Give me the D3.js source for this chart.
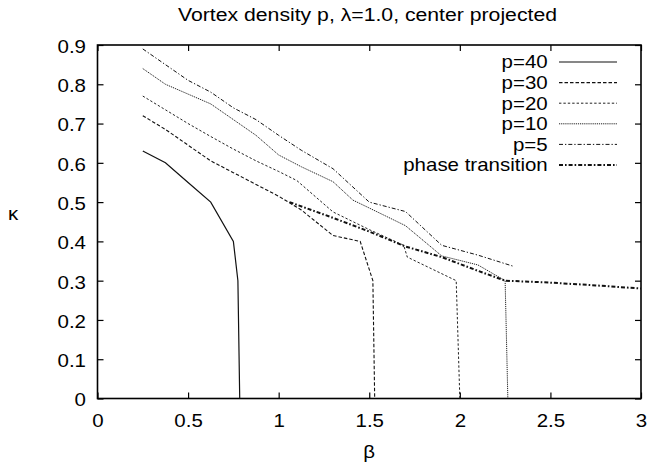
<!DOCTYPE html>
<html>
<head>
<meta charset="utf-8">
<script src="https://cdn.jsdelivr.net/npm/d3@7"></script>
<style>
  html, body { margin: 0; padding: 0; background: #fff; }
  text { font-family: "Liberation Sans", Arial, Helvetica, sans-serif; fill: #000; }
</style>
</head>
<body>
<svg id="chart" width="649" height="468"></svg>
<script>
// Curves kappa(beta) for several vortex densities p, plus the phase-transition line
const p40 = [[0.25,0.63],[0.375,0.60],[0.5,0.55],[0.625,0.50],[0.75,0.40],[0.775,0.30],[0.785,0]];
const p30 = [[0.25,0.72],[0.375,0.685],[0.5,0.645],[0.625,0.605],[0.75,0.575],[0.875,0.545],[1.0,0.515],[1.125,0.48],[1.3,0.415],[1.45,0.40],[1.52,0.30],[1.53,0]];
const p20 = [[0.25,0.77],[0.375,0.735],[0.5,0.70],[0.625,0.667],[0.75,0.635],[0.875,0.605],[1.0,0.578],[1.1,0.555],[1.3,0.475],[1.5,0.43],[1.69,0.39],[1.71,0.36],[1.98,0.30],[2.0,0]];
const p10 = [[0.25,0.84],[0.375,0.80],[0.5,0.775],[0.625,0.75],[0.75,0.71],[0.875,0.67],[1.0,0.62],[1.125,0.59],[1.3,0.552],[1.41,0.505],[1.5,0.485],[1.7,0.44],[1.9,0.363],[2.1,0.34],[2.25,0.30],[2.265,0]];
const p5  = [[0.25,0.89],[0.375,0.85],[0.5,0.81],[0.625,0.78],[0.75,0.74],[0.875,0.71],[1.0,0.67],[1.125,0.632],[1.3,0.585],[1.5,0.50],[1.7,0.476],[1.9,0.39],[2.1,0.365],[2.3,0.336]];
const phase = [[1.06,0.50],[1.3,0.46],[1.5,0.425],[1.7,0.387],[1.9,0.36],[2.1,0.325],[2.25,0.30],[2.5,0.295],[2.75,0.288],[3.0,0.28]];

const seriesNames = ["p=40", "p=30", "p=20", "p=10", "p=5", "phase transition"];
const seriesData = [p40, p30, p20, p10, p5, phase];
const xTicks = [0, 0.5, 1, 1.5, 2, 2.5, 3];
const yTicks = [0, 0.1, 0.2, 0.3, 0.4, 0.5, 0.6, 0.7, 0.8, 0.9];

// Line styles (gnuplot-like dash patterns)
const styles = [
  { dash: null,          width: 1.2, color: "#111" },
  { dash: "3.5,2",       width: 1.1, color: "#111" },
  { dash: "2.4,2",       width: 1.0, color: "#222" },
  { dash: "1.2,0.9",     width: 1.0, color: "#222" },
  { dash: "4,2,1.3,2",   width: 1.0, color: "#111" },
  { dash: "4,2,1.6,2",   width: 2.0, color: "#111" }
];

const margin = { left: 97.5, right: 8, top: 45, bottom: 69.5 };
const W = 649, H = 468;
const svg = d3.select("#chart");

const x = d3.scaleLinear().domain([0, 3]).range([margin.left, W - margin.right]);
const y = d3.scaleLinear().domain([0, 0.9]).range([H - margin.bottom, margin.top]);

const SX = 1.17; // horizontal glyph stretch for labels
const FS = 17.5;

// Axes with inward ticks on all four sides
const gB = svg.append("g").attr("transform", `translate(0,${y(0)})`)
  .call(d3.axisBottom(x).tickValues(xTicks).tickFormat(d3.format("")).tickSize(-6).tickPadding(16));
const gT = svg.append("g").attr("transform", `translate(0,${y(0.9)})`)
  .call(d3.axisTop(x).tickValues(xTicks).tickFormat("").tickSize(-6));
const gL = svg.append("g").attr("transform", `translate(${x(0)},0)`)
  .call(d3.axisLeft(y).tickValues(yTicks).tickFormat(d3.format("")).tickSize(-6).tickPadding(11.5));
const gR = svg.append("g").attr("transform", `translate(${x(3)},0)`)
  .call(d3.axisRight(y).tickValues(yTicks).tickFormat("").tickSize(-6));

[gB, gT, gL, gR].forEach(g => {
  g.select(".domain").remove();
  g.selectAll(".tick line").attr("stroke", "#000").attr("stroke-width", 1.2);
  g.selectAll(".tick text").attr("font-size", FS).attr("font-family", null);
});
gL.selectAll(".tick text").attr("dy", "0.42em")
  .attr("transform", function () { const tx = +d3.select(this).attr("x"); d3.select(this).attr("x", 0); return `translate(${tx},0) scale(${SX},1)`; });
gB.selectAll(".tick text")
  .attr("transform", function () { const ty = +d3.select(this).attr("y"); d3.select(this).attr("y", 0); return `translate(0,${ty}) scale(${SX},1)`; });

// Plot frame
svg.append("rect")
  .attr("x", x(0)).attr("y", y(0.9))
  .attr("width", x(3) - x(0)).attr("height", y(0) - y(0.9))
  .attr("fill", "none").attr("stroke", "#000").attr("stroke-width", 1.6);

// Curves
const line = d3.line().x(d => x(d[0])).y(d => y(d[1]));
svg.append("g").selectAll("path").data(seriesData).join("path")
  .attr("d", line)
  .attr("fill", "none")
  .attr("stroke", (d, i) => styles[i].color)
  .attr("stroke-width", (d, i) => styles[i].width)
  .attr("stroke-dasharray", (d, i) => styles[i].dash);

// Legend
const legY0 = 62, legDy = 20.6;
const leg = svg.append("g").selectAll("g").data(seriesNames).join("g");
leg.append("text")
  .attr("text-anchor", "end")
  .attr("font-size", FS)
  .attr("dy", "0.36em")
  .attr("transform", (d, i) => `translate(547.7,${legY0 + i * legDy}) scale(${SX},1)`)
  .text(d => d);
leg.append("line")
  .attr("x1", 559).attr("x2", 617)
  .attr("y1", (d, i) => legY0 + i * legDy).attr("y2", (d, i) => legY0 + i * legDy)
  .attr("stroke", (d, i) => styles[i].color)
  .attr("stroke-width", (d, i) => styles[i].width)
  .attr("stroke-dasharray", (d, i) => styles[i].dash);

// Title and axis labels
svg.append("text")
  .attr("x", 178).attr("y", 20.5)
  .attr("font-size", 18)
  .attr("textLength", 379).attr("lengthAdjust", "spacingAndGlyphs")
  .text("Vortex density p, λ=1.0, center projected");

svg.append("text")
  .attr("text-anchor", "middle")
  .attr("font-size", FS)
  .attr("transform", `translate(${x(1.5)},458) scale(${SX},1)`)
  .text("β");

svg.append("text")
  .attr("text-anchor", "middle")
  .attr("font-size", FS)
  .attr("transform", `translate(13,220) scale(${SX},1)`)
  .text("κ");
</script>
</body>
</html>
